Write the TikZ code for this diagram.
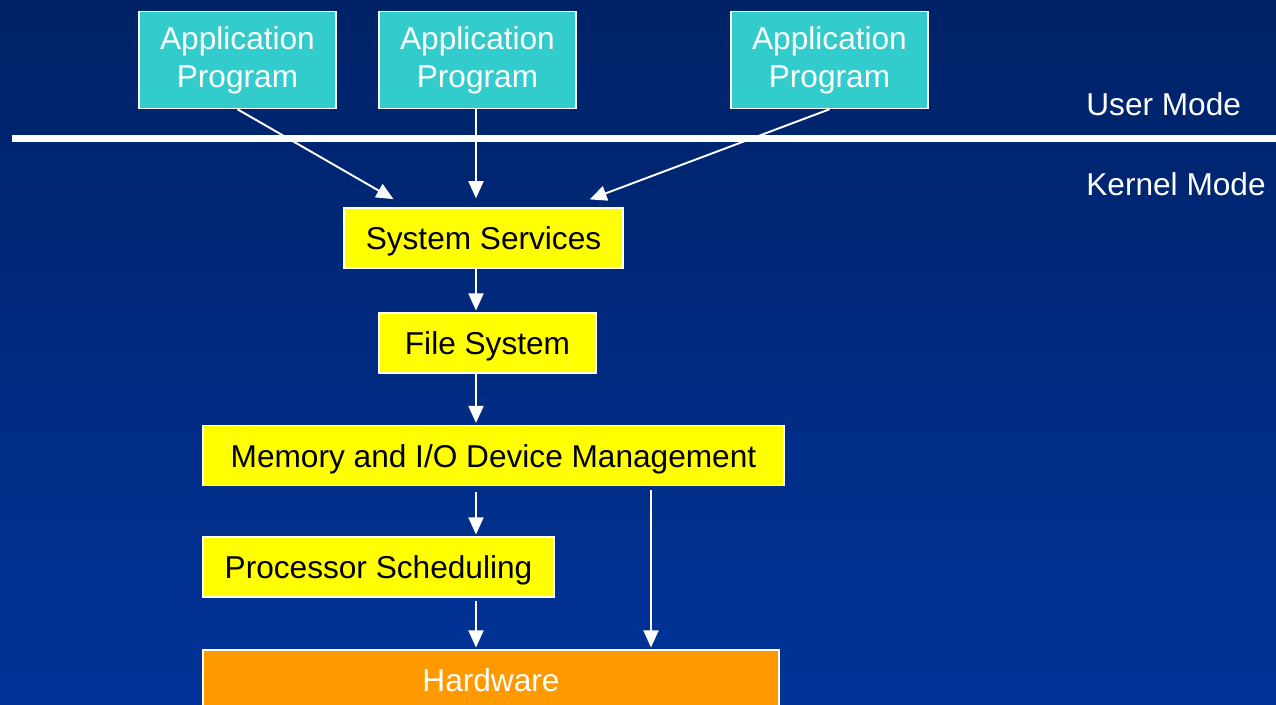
\documentclass[tikz,border=0pt]{standalone}
\usepackage{fontspec}
\setmainfont{Liberation Sans}
\usetikzlibrary{arrows.meta}
\definecolor{bgtop}{RGB}{0,34,102}
\definecolor{bgbot}{RGB}{0,51,153}
\definecolor{appcyan}{RGB}{51,204,204}
\definecolor{layeryellow}{RGB}{255,255,0}
\definecolor{hworange}{RGB}{255,153,0}
\begin{document}
\begin{tikzpicture}[x=0.02cm, y=-0.02cm,
    every node/.style={font=\fontsize{18}{21.5}\selectfont, inner sep=0pt},
    appbox/.style={draw=white, line width=0.9pt, fill=appcyan, text=white, align=center, minimum width=3.94cm, minimum height=1.94cm},
    layer/.style={draw=white, line width=0.9pt, fill=layeryellow, text=black, minimum height=1.2cm, text height=17.5pt, text depth=4pt},
    arr/.style={white, line width=1.1pt, -{Triangle[width=0.3cm, length=0.34cm]}, shorten >=1pt}]
            \clip (0,0) rectangle (1276,705);
            \shade[top color=bgtop, bottom color=bgbot] (0,0) rectangle (1276,705);
            \draw[white, line width=3.8pt] (12,138.5) -- (1276,138.5);
            \node (user) [anchor=west, text=white] at (1086,104) {User Mode};
            \node (kernel) [anchor=west, text=white] at (1086,184) {Kernel Mode};
            \node (app1) [appbox] at (237.5,60) {Application\\Program};
            \node (app2) [appbox] at (477.5,60) {Application\\Program};
            \node (app3) [appbox] at (829.5,60) {Application\\Program};
            \node (sys) [layer, minimum width=5.58cm] at (483.5,238) {System Services};
            \node (fs) [layer, minimum width=4.34cm] at (487.5,343) {File System};
            \node (mem) [layer, minimum width=11.62cm] at (493.5,455.5) {Memory and I/O Device Management};
            \node (proc) [layer, minimum width=7.02cm] at (378.5,567) {Processor Scheduling};
            \node (hw) [draw=white, line width=0.9pt, fill=hworange, text=white, minimum width=11.52cm, minimum height=1.2cm] at (491,680) {Hardware};
            \coordinate (in1) at (395,200);
            \coordinate (in2) at (476,200);
            \coordinate (in3) at (588,200);
            \coordinate (side) at (651,490);
            \draw[arr] (app1.south) -- (in1);
            \draw[arr] (app2.south -| in2) -- (in2);
            \draw[arr] (app3.south) -- (in3);
            \draw[arr] (sys.south -| in2) -- (fs.north -| in2);
            \draw[arr] (fs.south -| in2) -- (mem.north -| in2);
            \draw[arr, shorten <=3pt] (mem.south -| in2) -- (proc.north -| in2);
            \draw[arr, shorten <=2pt] (proc.south -| in2) -- (hw.north -| in2);
            \draw[arr] (side) -- (hw.north -| side);
        \end{tikzpicture}
\end{document}
